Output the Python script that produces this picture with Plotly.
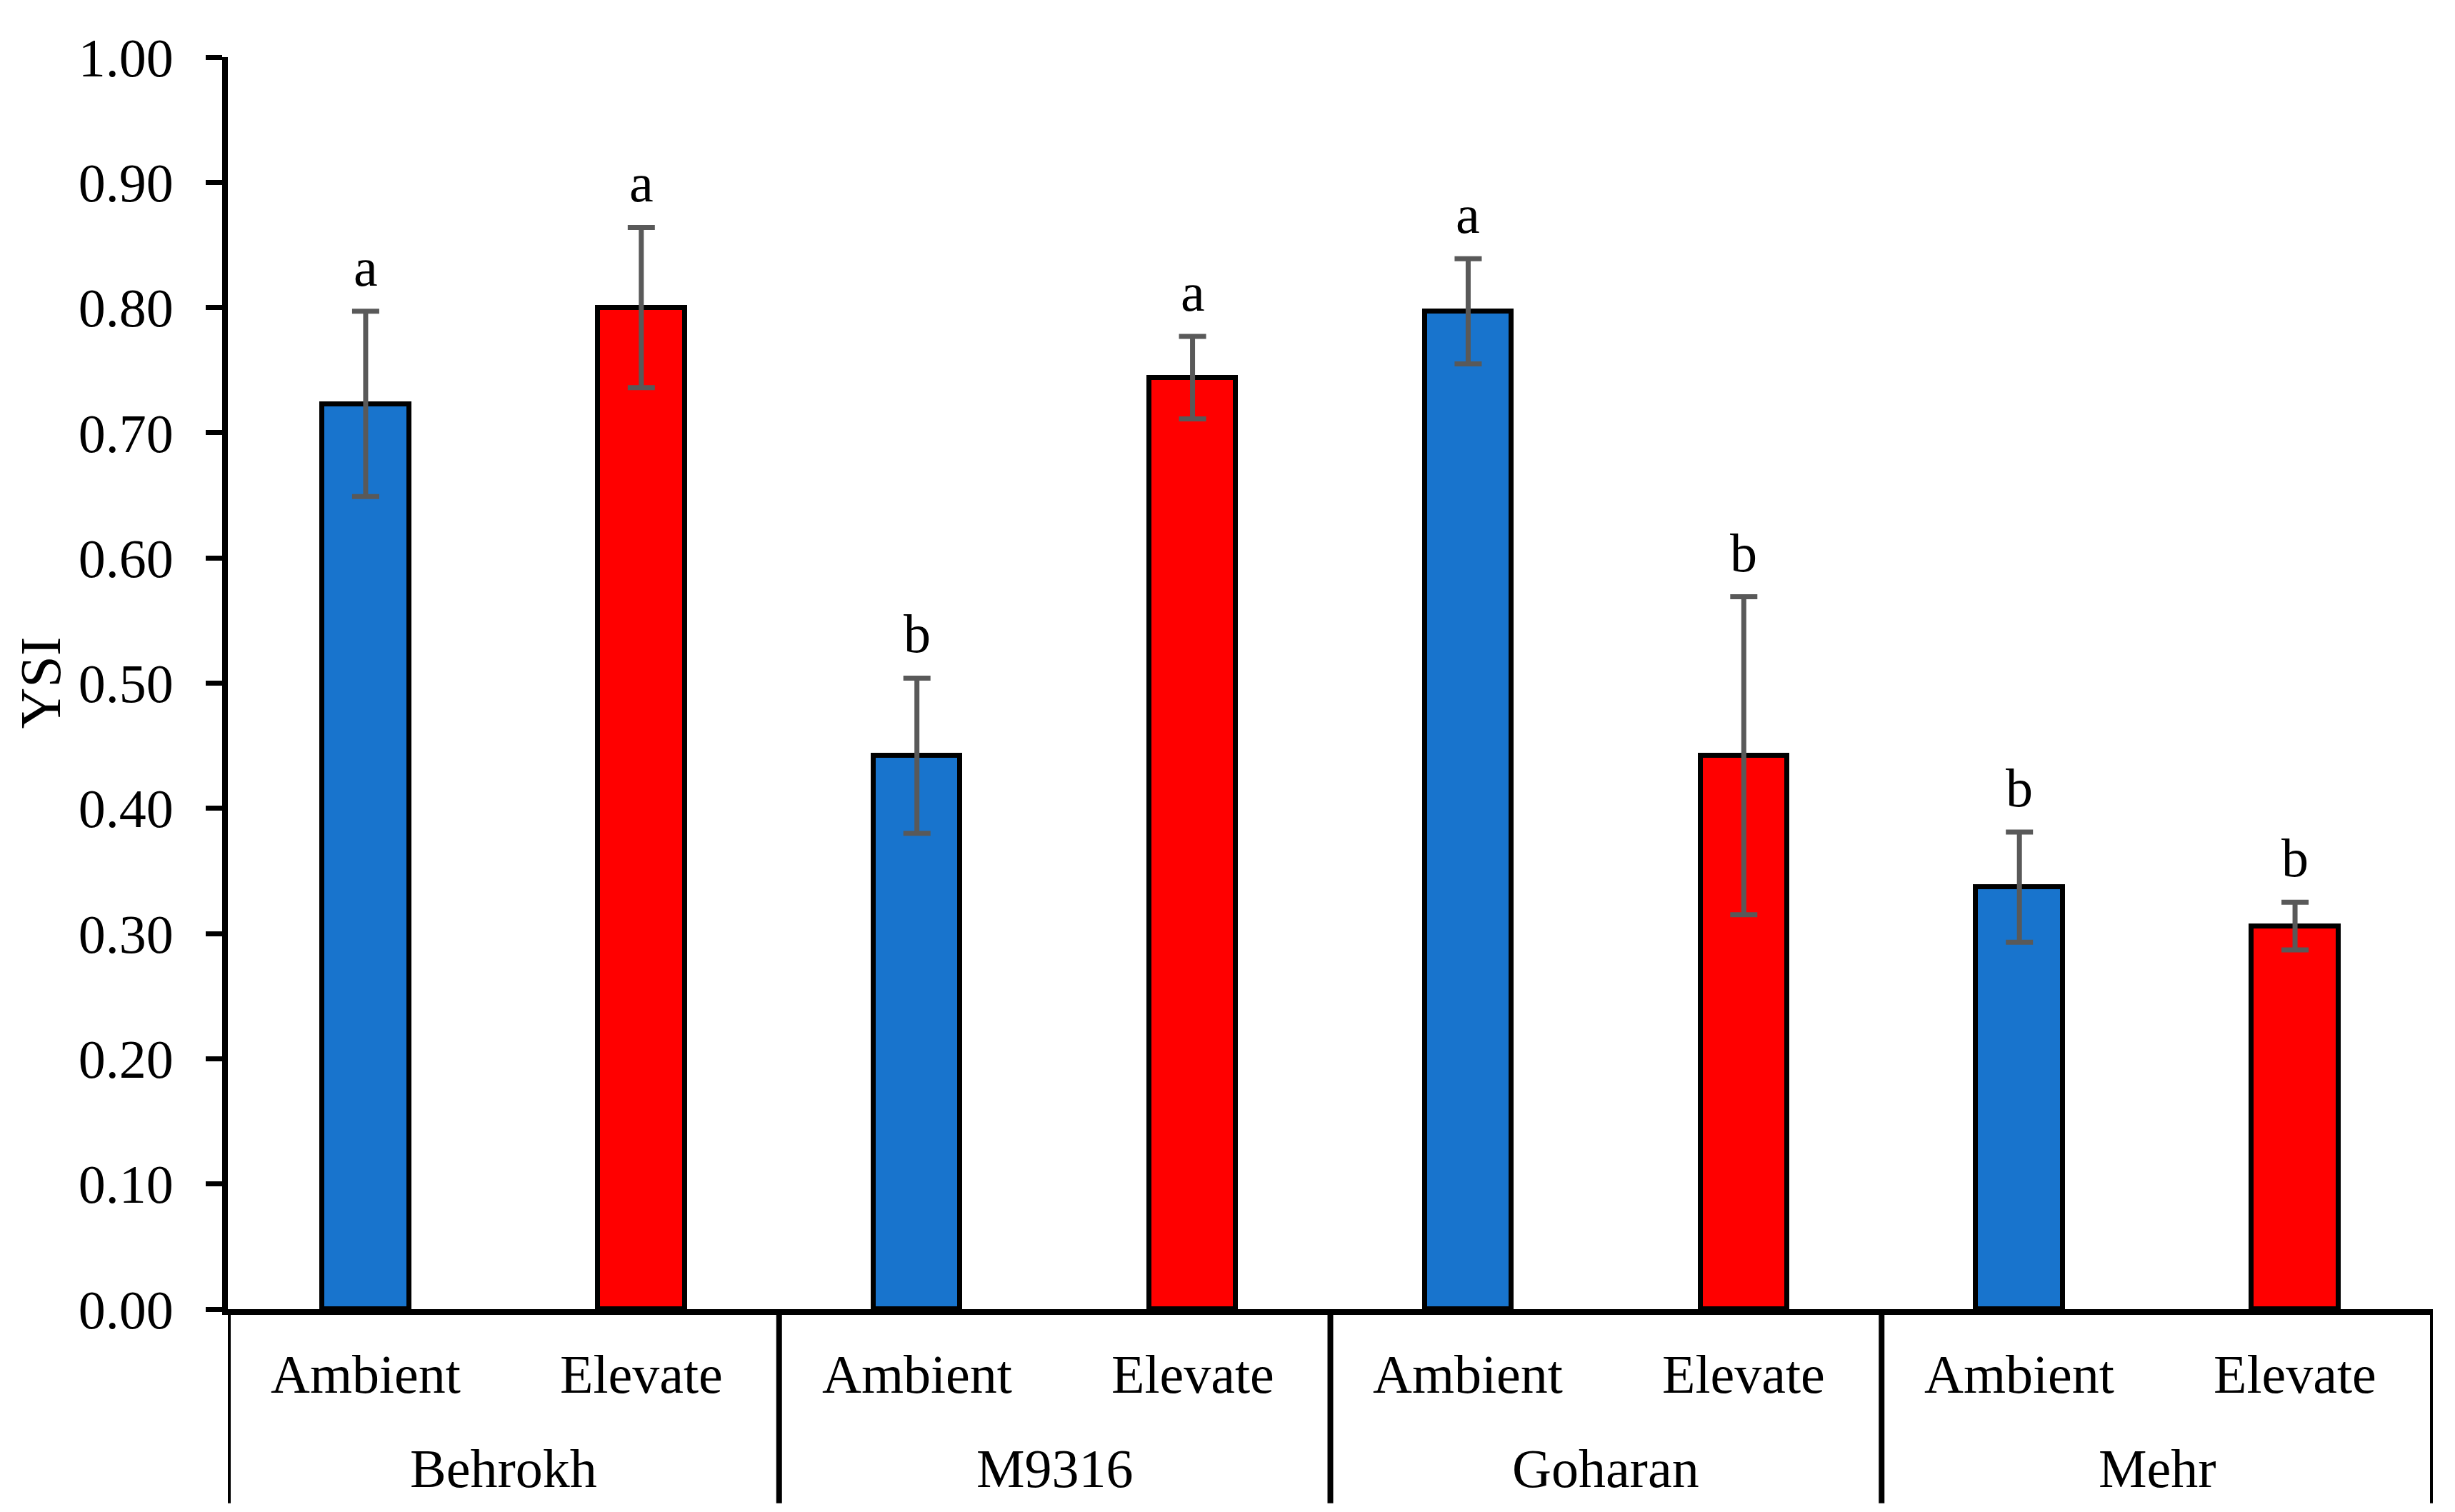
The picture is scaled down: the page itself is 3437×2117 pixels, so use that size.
import plotly.graph_objects as go

groups = ["Behrokh", "M9316", "Goharan", "Mehr"]
treatments = ["Ambient", "Elevate"]
ambient_vals = [0.723, 0.442, 0.797, 0.337]
elevate_vals = [0.800, 0.744, 0.442, 0.306]
ambient_err = [0.074, 0.062, 0.042, 0.044]
elevate_err = [0.064, 0.033, 0.127, 0.019]
ambient_letters = ["a", "b", "a", "b"]
elevate_letters = ["a", "a", "b", "b"]
y_ticks = [0.0, 0.1, 0.2, 0.3, 0.4, 0.5, 0.6, 0.7, 0.8, 0.9, 1.0]

FONT = "Liberation Serif, Times New Roman, serif"
FS = 76
L_MARGIN = 311
PLOT_W = 3437 - L_MARGIN - 39

amb_x = [2 * i for i in range(len(groups))]
ele_x = [2 * i + 1 for i in range(len(groups))]

fig = go.Figure()
fig.add_trace(go.Bar(
    x=amb_x, y=ambient_vals, width=0.315, name="Ambient",
    marker=dict(color="#1874CD", line=dict(color="black", width=7)),
    error_y=dict(type="data", array=ambient_err, color="#595959", thickness=7, width=19),
))
fig.add_trace(go.Bar(
    x=ele_x, y=elevate_vals, width=0.315, name="Elevate",
    marker=dict(color="#FF0000", line=dict(color="black", width=7)),
    error_y=dict(type="data", array=elevate_err, color="#595959", thickness=7, width=19),
))

annotations = []
# significance letters
for xs, vals, errs, letters in [(amb_x, ambient_vals, ambient_err, ambient_letters),
                                (ele_x, elevate_vals, elevate_err, elevate_letters)]:
    for x, v, e, l in zip(xs, vals, errs, letters):
        annotations.append(dict(x=x, y=v + e, xref="x", yref="y", text=l, showarrow=False,
                                yanchor="bottom", yshift=18, font=dict(family=FONT, size=FS, color="black")))
# treatment labels
for i, g in enumerate(groups):
    for j, t in enumerate(treatments):
        annotations.append(dict(x=2 * i + j, y=-0.052, xref="x", yref="paper", text=t, showarrow=False,
                                yanchor="middle", font=dict(family=FONT, size=FS, color="black")))
    annotations.append(dict(x=2 * i + 0.5, y=-0.127, xref="x", yref="paper", text=g, showarrow=False,
                            yanchor="middle", font=dict(family=FONT, size=FS, color="black")))
# y title
annotations.append(dict(x=-(L_MARGIN - 2) / PLOT_W, y=0.5, xref="paper", yref="paper", text="YSI",
                        showarrow=False, textangle=-90, xanchor="left", yanchor="middle",
                        font=dict(family=FONT, size=80, color="black")))

shapes = []
for k in range(len(groups) + 1):
    shapes.append(dict(type="line", xref="x", yref="paper", x0=2 * k - 0.5, x1=2 * k - 0.5,
                       y0=0, y1=-0.155, line=dict(color="black", width=8)))

fig.update_layout(
    width=3437, height=2117,
    margin=dict(l=L_MARGIN, r=39, t=72, b=292),
    plot_bgcolor="white", paper_bgcolor="white",
    showlegend=False, bargap=0,
    annotations=annotations, shapes=shapes,
    font=dict(family=FONT, size=FS, color="black"),
)
fig.update_xaxes(range=[-0.5, 7.5], showline=True, linewidth=8, linecolor="black",
                 showticklabels=False, ticks="", showgrid=False, zeroline=False)
fig.update_yaxes(range=[0, 1], tickvals=y_ticks, tickformat=".2f", ticks="outside", ticklen=23,
                 tickwidth=7, tickcolor="black", showline=True, linewidth=8, linecolor="black",
                 showgrid=False, zeroline=False, ticklabelstandoff=30,
                 tickfont=dict(family=FONT, size=FS, color="black"))

fig.write_html("out.html")
